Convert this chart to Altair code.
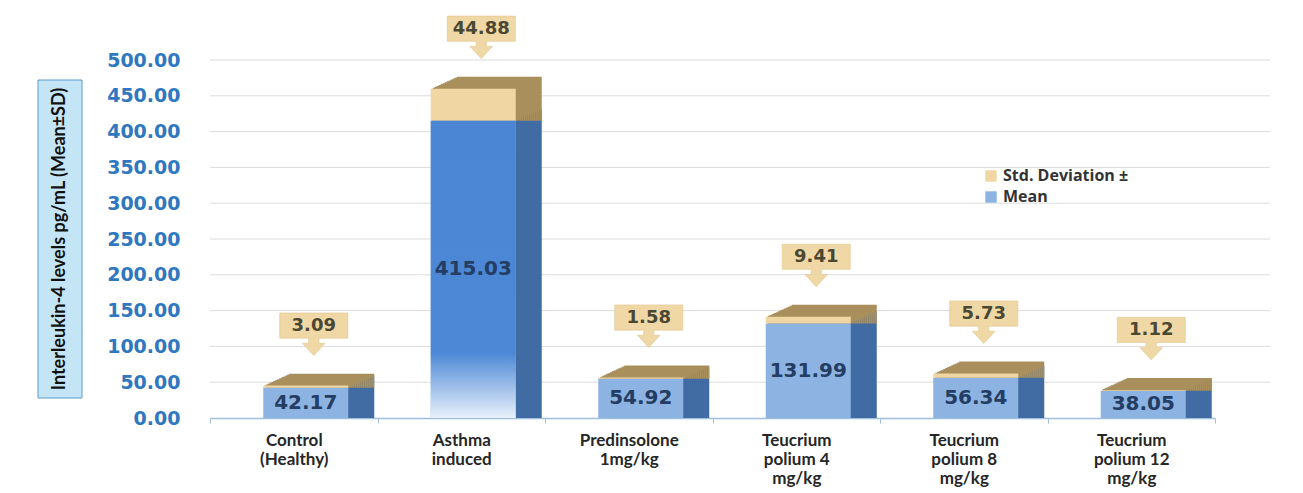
import altair as alt
import pandas as pd

categories = ["Control\n(Healthy)", "Asthma\ninduced", "Predinsolone\n1mg/kg",
              "Teucrium\npolium 4\nmg/kg", "Teucrium\npolium 8\nmg/kg", "Teucrium\npolium 12\nmg/kg"]
means = [42.17, 415.03, 54.92, 131.99, 56.34, 38.05]
sds = [3.09, 44.88, 1.58, 9.41, 5.73, 1.12]
series = ["Std. Deviation ±", "Mean"]
y_ticks = [0, 50, 100, 150, 200, 250, 300, 350, 400, 450, 500]
y_title = "Interleukin-4 levels pg/mL (Mean±SD)"

rows = []
for c, m, s in zip(categories, means, sds):
    rows.append({"cat": c, "series": "Mean", "y0": 0.0, "y1": m, "mid": m / 2, "lab": f"{m:.2f}"})
    rows.append({"cat": c, "series": "Std. Deviation ±", "y0": m, "y1": m + s, "mid": m + s / 2, "lab": f"{s:.2f}"})
seg = pd.DataFrame(rows)
callouts = pd.DataFrame({"cat": categories, "total": [m + s for m, s in zip(means, sds)],
                         "lab": [f"{s:.2f}" for s in sds]})
means_df = seg[seg.series == "Mean"]
grid_df = pd.DataFrame({"v": y_ticks[1:]})

BAR_W = 85
FRONT_DX = 12

xenc = alt.X("cat:N", sort=categories, title=None,
             scale=alt.Scale(range=[0, 1005], paddingInner=0, paddingOuter=0),
             axis=alt.Axis(labelExpr="split(datum.label, '\\n')", labelAngle=0,
                           labelFont="Lato", labelFontWeight="bold", labelFontSize=17,
                           labelColor="#262626", labelLineHeight=19, labelPadding=9,
                           tickBand="extent", tickSize=5, tickColor="#9fbfdc",
                           domainColor="#9fbfdc", domainWidth=1.5, grid=False))
yscale = alt.Scale(domain=[0, 500], nice=False, zero=True)
yaxis = alt.Axis(values=y_ticks, format=".2f", title=None, labelFont="DejaVu Sans",
                 labelFontWeight="bold", labelFontSize=19, labelColor="#2f78c0",
                 labelPadding=30, tickSize=0, domain=False, grid=False)

grid = alt.Chart(grid_df).mark_rule(color="#dcdcdc", strokeWidth=1).encode(
    y=alt.Y("v:Q", scale=yscale, axis=yaxis), x=alt.value(0), x2=alt.value(1060))

base = alt.Chart(seg)

layers = []
for k in range(13, 0, -1):
    layers.append(
        base.mark_bar(size=BAR_W, xOffset=FRONT_DX + 2 * k, yOffset=-0.92 * k).encode(
            x=xenc,
            y=alt.Y("y1:Q", scale=yscale, axis=yaxis),
            y2="y0:Q",
            color=alt.condition(alt.datum.series == "Mean", alt.value("#416ba3"), alt.value("#a88f5c")),
        )
    )

front = base.mark_bar(size=BAR_W, xOffset=FRONT_DX).encode(
    x=xenc,
    y=alt.Y("y1:Q", scale=yscale, axis=yaxis),
    y2="y0:Q",
    color=alt.Color("series:N",
                    scale=alt.Scale(domain=series, range=["#f0d6a2", "#8db3e2"]),
                    legend=alt.Legend(title=None, orient="none", legendX=773, legendY=108,
                                      symbolType="square", symbolSize=130,
                                      labelFont="Open Sans", labelFontSize=16,
                                      labelFontWeight="bold", labelColor="#333333",
                                      rowPadding=5)),
)

grad = alt.Gradient(gradient="linear",
                    stops=[alt.GradientStop(color="#4a86d4", offset=0),
                           alt.GradientStop(color="#4c88d6", offset=0.78),
                           alt.GradientStop(color="#e8f0fa", offset=1)],
                    x1=0, x2=0, y1=0, y2=1)
asthma = alt.Chart(means_df).transform_filter(
    alt.datum.cat == categories[1]
).mark_bar(size=BAR_W, xOffset=FRONT_DX, color=grad).encode(
    x=xenc, y=alt.Y("y1:Q", scale=yscale, axis=yaxis), y2="y0:Q")

mean_txt = alt.Chart(means_df).mark_text(
    font="DejaVu Sans", fontWeight="bold", fontSize=20, color="#233d63",
    xOffset=FRONT_DX, baseline="middle").encode(
    x=xenc, y=alt.Y("mid:Q", scale=yscale, axis=yaxis), text="lab:N")

shape = ("M-1,-0.37 L1,-0.37 L1,0.37 L0.15,0.37 L0.15,0.52 L0.33,0.52 "
         "L0,0.88 L-0.33,0.52 L-0.15,0.52 L-0.15,0.37 L-1,0.37 Z")
call_box = alt.Chart(callouts).mark_point(
    shape=shape, size=68 * 68, filled=True, fill="#f0d8a6", stroke="#e0c48a",
    strokeWidth=0.6, opacity=1, xOffset=FRONT_DX + 8, yOffset=-60).encode(
    x=xenc, y=alt.Y("total:Q", scale=yscale, axis=yaxis))
call_txt = alt.Chart(callouts).mark_text(
    font="DejaVu Sans", fontWeight="bold", fontSize=18, color="#4a4733",
    xOffset=FRONT_DX + 8, yOffset=-60, baseline="middle").encode(
    x=xenc, y=alt.Y("total:Q", scale=yscale, axis=yaxis), text="lab:N")

tdf = pd.DataFrame({"t": [y_title]})
tbox = alt.Chart(tdf).mark_rect(fill="#c4e5f6", stroke="#5a9ccc", strokeWidth=1).encode(
    x=alt.value(-172), x2=alt.value(-128), y=alt.value(20), y2=alt.value(338))
ttxt = alt.Chart(tdf).mark_text(angle=270, font="Lato", fontWeight="bold", fontSize=18,
                                color="#111111", baseline="middle").encode(
    x=alt.value(-150), y=alt.value(179), text="t:N")

chart = alt.layer(grid, *layers, front, asthma, mean_txt, call_box, call_txt, tbox, ttxt).properties(
    width=1060, height=358,
    autosize=alt.AutoSizeParams(type="none"),
    padding={"left": 210, "top": 60, "right": 33, "bottom": 75},
    background="white",
).configure_view(stroke=None)

chart.save("out.html", embed_options={"renderer": "svg", "actions": False})
